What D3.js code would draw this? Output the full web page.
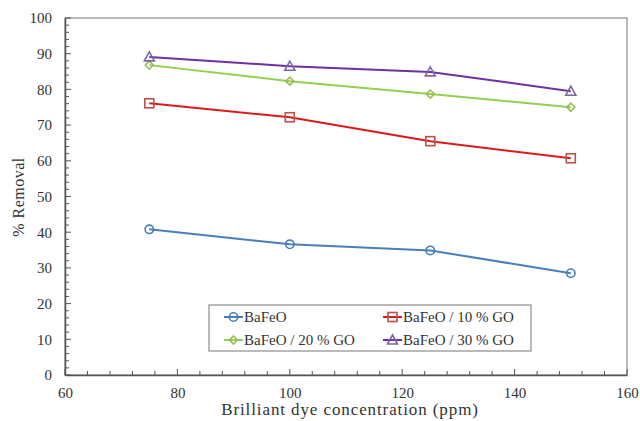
<!DOCTYPE html>
<html>
<head>
<meta charset="utf-8">
<script src="https://cdn.jsdelivr.net/npm/d3@7"></script>
<style>
  body { margin: 0; background: #fff; }
  svg text { font-family: 'Liberation Serif', serif; fill: #333; }
</style>
</head>
<body>
<svg id="chart" width="640" height="421"></svg>
<script>
  // data
  var concentrations = [75, 100, 125, 150]
  var seriesNames = ['BaFeO', 'BaFeO / 10 % GO', 'BaFeO / 20 % GO', 'BaFeO / 30 % GO']
  var bafeo = [40.8, 36.6, 34.9, 28.5]
  var go10 = [76.1, 72.2, 65.5, 60.7]
  var go20 = [86.8, 82.3, 78.7, 75.0]
  var go30 = [89.1, 86.5, 84.9, 79.5]
  var xTicks = [60, 80, 100, 120, 140, 160]
  var yTicks = [0, 10, 20, 30, 40, 50, 60, 70, 80, 90, 100]

  var LINE_COLORS = ['#4a7ebb', '#dd1a1a', '#92d050', '#7030a0']
  var MARK_COLORS = ['#4a7ebb', '#c0504d', '#9bbb59', '#8064a2']
  var SHAPES = ['circle', 'square', 'diamond', 'triangle']
  var FONT = 'Liberation Serif'

  var margin = { left: 65, top: 18, right: 13, bottom: 46 }
  var width = 640, height = 421
  var svg = d3.select('#chart')

  var x = d3.scaleLinear().domain([60, 160]).range([margin.left, width - margin.right])
  var y = d3.scaleLinear().domain([0, 100]).range([height - margin.bottom, margin.top])

  // plot frame (top/right)
  svg.append('rect')
    .attr('x', x(60)).attr('y', y(100))
    .attr('width', x(160) - x(60)).attr('height', y(0) - y(100))
    .attr('fill', 'none').attr('stroke', '#8c8c8c').attr('stroke-width', 1.2)

  // minor ticks
  var g = svg.append('g')
  g.selectAll('.ymin').data(d3.range(0, 101, 2)).enter().append('line')
    .attr('x1', x(60)).attr('x2', function (d) { return x(60) + (d % 10 === 0 ? 6 : 4) })
    .attr('y1', function (d) { return y(d) }).attr('y2', function (d) { return y(d) })
    .attr('stroke', '#555')
  g.selectAll('.xmin').data(d3.range(60, 161, 4)).enter().append('line')
    .attr('y1', y(0)).attr('y2', function (d) { return y(0) - (d % 20 === 0 ? 6 : 4) })
    .attr('x1', function (d) { return x(d) }).attr('x2', function (d) { return x(d) })
    .attr('stroke', '#555')

  // axes
  var yAxis = svg.append('g').attr('transform', 'translate(' + x(60) + ',0)')
    .call(d3.axisLeft(y).tickValues(yTicks).tickSize(0).tickPadding(13))
  var xAxis = svg.append('g').attr('transform', 'translate(0,' + y(0) + ')')
    .call(d3.axisBottom(x).tickValues(xTicks).tickSize(0).tickPadding(12))
  ;[xAxis, yAxis].forEach(function (a) {
    a.attr('font-family', FONT).attr('font-size', 15)
    a.select('.domain').attr('stroke', '#555').attr('stroke-width', 1.5)
    a.selectAll('text').attr('fill', '#333')
  })

  // titles
  svg.append('text').attr('x', 350).attr('y', 415)
    .attr('text-anchor', 'middle').attr('font-size', 17).attr('font-family', FONT)
    .style('letter-spacing', '0.9px')
    .text('Brilliant dye concentration (ppm)')
  svg.append('text').attr('transform', 'translate(24,197) rotate(-90)')
    .attr('text-anchor', 'middle').attr('font-size', 16).attr('font-family', FONT)
    .style('letter-spacing', '0.5px')
    .text('% Removal')

  function drawMarker(sel, shape, color) {
    if (shape === 'circle') {
      sel.append('circle').attr('r', 4.2)
    } else if (shape === 'square') {
      sel.append('rect').attr('x', -4.5).attr('y', -4.5).attr('width', 9).attr('height', 9)
    } else if (shape === 'diamond') {
      sel.append('path').attr('d', 'M0,-4L4,0L0,4L-4,0Z')
    } else {
      sel.append('path').attr('d', 'M0,-5L5,4L-5,4Z')
    }
    sel.selectAll('*').attr('fill', 'none').attr('stroke', color).attr('stroke-width', 1.6)
  }

  var line = d3.line()
    .x(function (d, i) { return x(concentrations[i]) })
    .y(function (d) { return y(d) })

  var allSeries = [bafeo, go10, go20, go30]
  allSeries.forEach(function (vals, s) {
    svg.append('path').datum(vals).attr('d', line)
      .attr('fill', 'none').attr('stroke', LINE_COLORS[s]).attr('stroke-width', 2)
    vals.forEach(function (v, i) {
      var m = svg.append('g').attr('transform', 'translate(' + x(concentrations[i]) + ',' + y(v) + ')')
      drawMarker(m, SHAPES[s], MARK_COLORS[s])
    })
  })

  // legend
  var legend = svg.append('g')
  legend.append('rect').attr('x', 209).attr('y', 305).attr('width', 322).attr('height', 46)
    .attr('fill', '#fff').attr('stroke', '#8c8c8c').attr('stroke-width', 1.2)
  var legendPos = [[224, 317], [383, 317], [224, 340], [383, 340]]
  seriesNames.forEach(function (name, s) {
    var p = legendPos[s]
    var item = legend.append('g').attr('transform', 'translate(' + p[0] + ',' + p[1] + ')')
    item.append('line').attr('x1', 0).attr('x2', 19).attr('stroke', LINE_COLORS[s]).attr('stroke-width', 2)
    var m = item.append('g').attr('transform', 'translate(9.5,0)')
    drawMarker(m, SHAPES[s], MARK_COLORS[s])
    item.append('text').attr('x', 20).attr('y', 5).attr('font-size', 15).attr('font-family', FONT)
      .text(name)
  })
</script>
</body>
</html>
